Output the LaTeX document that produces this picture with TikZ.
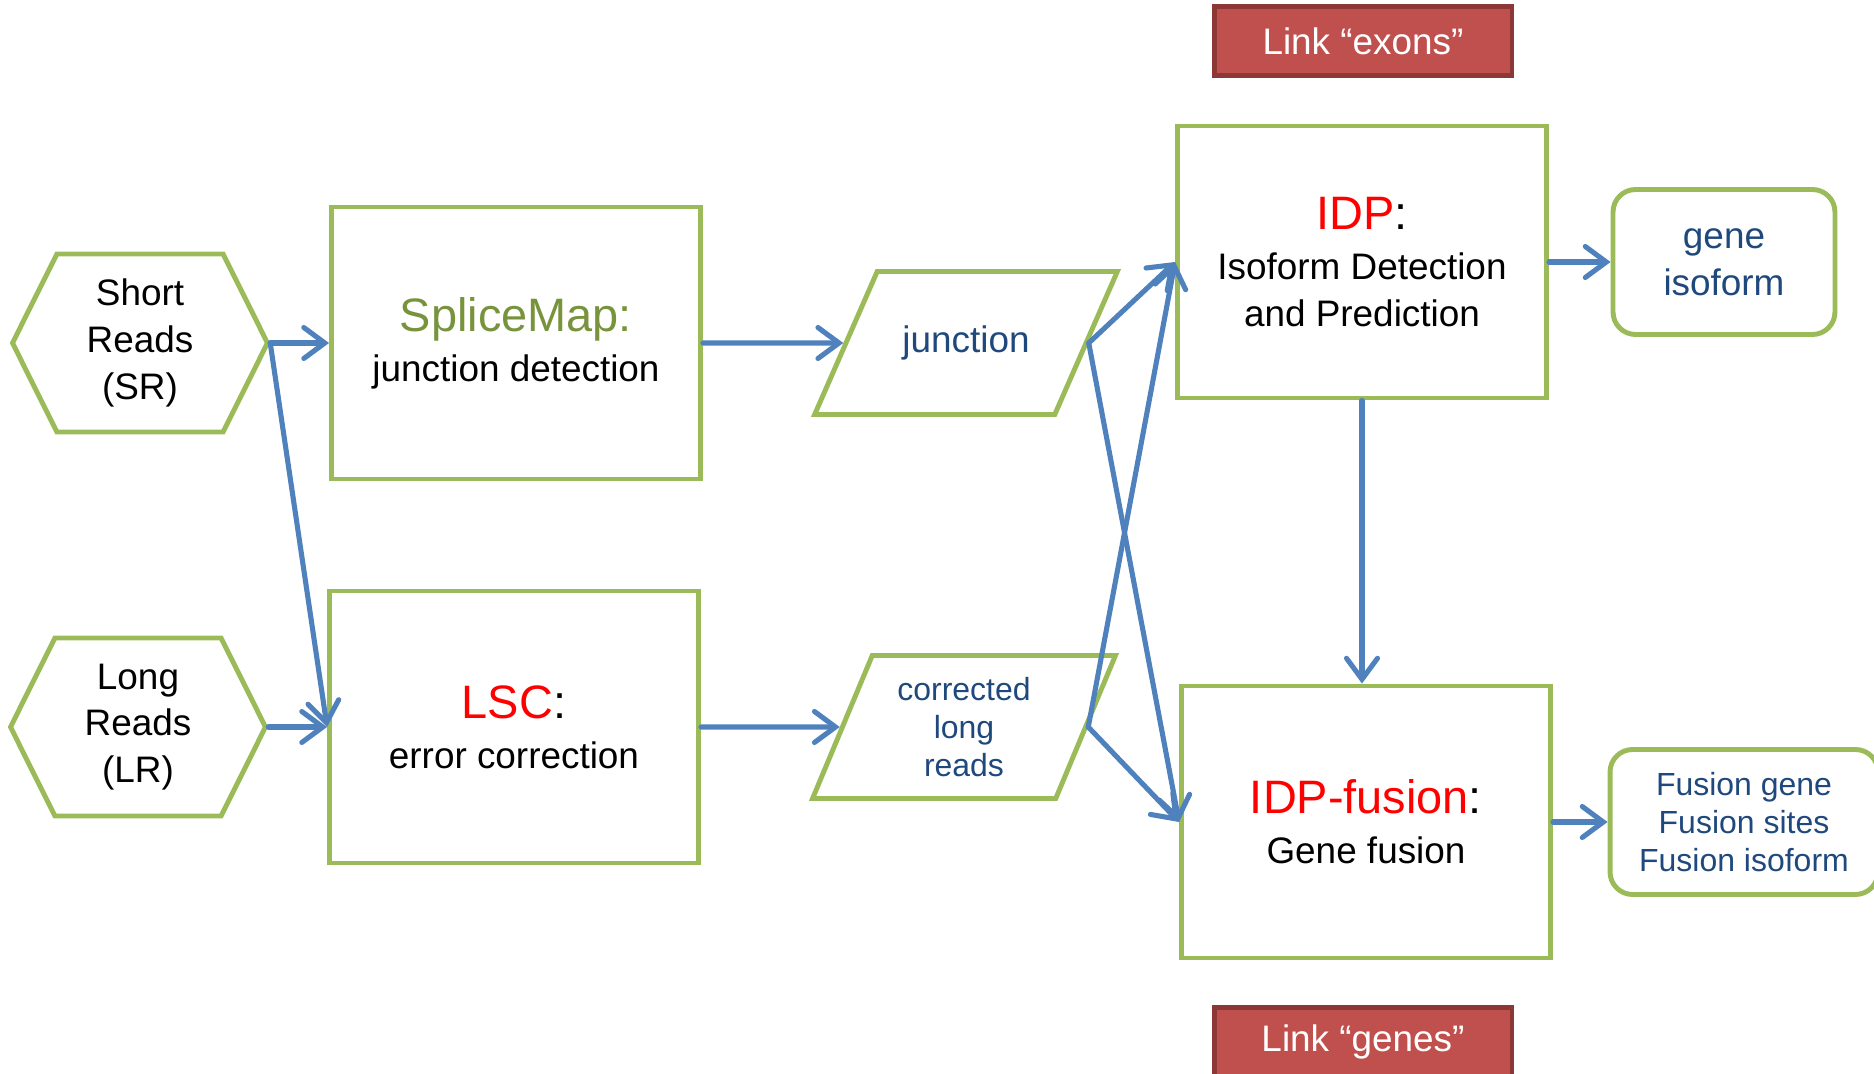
\documentclass[tikz,border=0pt]{standalone}
\usepackage{fontspec}
\setmainfont{Liberation Sans}
\usetikzlibrary{arrows.meta,positioning,shapes.geometric,shapes.symbols}
\definecolor{boxGreen}{RGB}{155,187,89}
\definecolor{arrowBlue}{RGB}{79,129,189}
\definecolor{textBlue}{RGB}{31,73,125}
\definecolor{titleGreen}{RGB}{119,147,60}
\definecolor{linkRed}{RGB}{192,80,77}
\definecolor{linkDark}{RGB}{140,56,54}
\tikzset{
  reads/.style={draw=boxGreen, line width=2.8pt, signal, signal to=east and west, signal pointer angle=127, minimum width=5.1cm, minimum height=3.56cm, align=center, inner sep=0pt, font=\fontsize{21}{26.5}\selectfont},
  tool/.style={draw=boxGreen, line width=2.8pt, minimum width=7.38cm, minimum height=5.44cm, align=center, font=\fontsize{21}{26.5}\selectfont},
  data/.style={draw=boxGreen, line width=2.8pt, trapezium, trapezium left angle=67, trapezium right angle=113, trapezium stretches=true, minimum width=6.06cm, minimum height=2.86cm, align=center, text=textBlue},
  result/.style={draw=boxGreen, line width=2.8pt, rounded corners=0.45cm, minimum height=2.9cm, align=center, text=textBlue},
  link/.style={draw=linkDark, fill=linkRed, line width=2.8pt, minimum width=5.96cm, minimum height=1.38cm, text=white, font=\fontsize{21}{25.6}\selectfont},
  arrow/.style={-{Straight Barb[length=0.42cm, width=0.62cm, line cap=round]}, line width=2.9pt, draw=arrowBlue, line cap=round}
}
\newcommand{\head}[1]{{\fontsize{26.7}{30}\selectfont #1}}

\begin{document}
\begin{tikzpicture}[x=0.02cm, y=-0.02cm]
  \useasboundingbox (0,0) rectangle (1874,1074);
  \node[reads] (sr) at (140,343) {Short\\Reads\\(SR)};
  \node[reads] (lr) at (138,727) {Long\\Reads\\(LR)};
  \node[tool] (splice) at (516,343) {\head{\textcolor{titleGreen}{SpliceMap:}}\\[2pt]junction detection};
  \node[tool] (lsc) at (514,727) {\head{\textcolor{red}{LSC}:}\\[2pt]error correction};
  \node[data, inner ysep=23pt, font=\fontsize{21}{26.5}\selectfont] (junc) at (966,343) {junction};
  \node[data, font=\fontsize{18.2}{21.6}\selectfont] (corr) at (964,727) {corrected\\long\\reads};
  \node[tool] (idp) at (1362,262) {\head{\textcolor{red}{IDP}:}\\[2pt]Isoform Detection\\and Prediction};
  \node[tool] (idpf) at (1366,822) {\head{\textcolor{red}{IDP-fusion}:}\\[2pt]Gene fusion};
  \node[result, minimum width=4.44cm, font=\fontsize{21}{26.5}\selectfont] (iso) at (1724,262) {gene\\isoform};
  \node[result, minimum width=5.36cm, font=\fontsize{18.2}{21.6}\selectfont] (fusout) at (1744,822) {Fusion gene\\Fusion sites\\Fusion isoform};
  \node[link] (exons) at (1363,41) {Link “exons”};
  \node[link] (genes) at (1363,1042) {Link “genes”};

  \draw[arrow] (sr.east) -- (splice.west);
  \draw[arrow] (sr.east) -- (lsc.west);
  \draw[arrow] (lr.east) -- (lsc.west);
  \draw[arrow] (splice.east) -- (junc.west);
  \draw[arrow] (lsc.east) -- (corr.west);
  \draw[arrow] (junc.east) -- (idp.west);
  \draw[arrow] (junc.east) -- (idpf.west);
  \draw[arrow] (corr.east) -- (idp.west);
  \draw[arrow] (corr.east) -- (idpf.west);
  \draw[arrow] (idp.south) -- (idp.south |- idpf.north);
  \draw[arrow] (idp.east) -- (iso.west);
  \draw[arrow] (idpf.east) -- (fusout.west);
\end{tikzpicture}
\end{document}
